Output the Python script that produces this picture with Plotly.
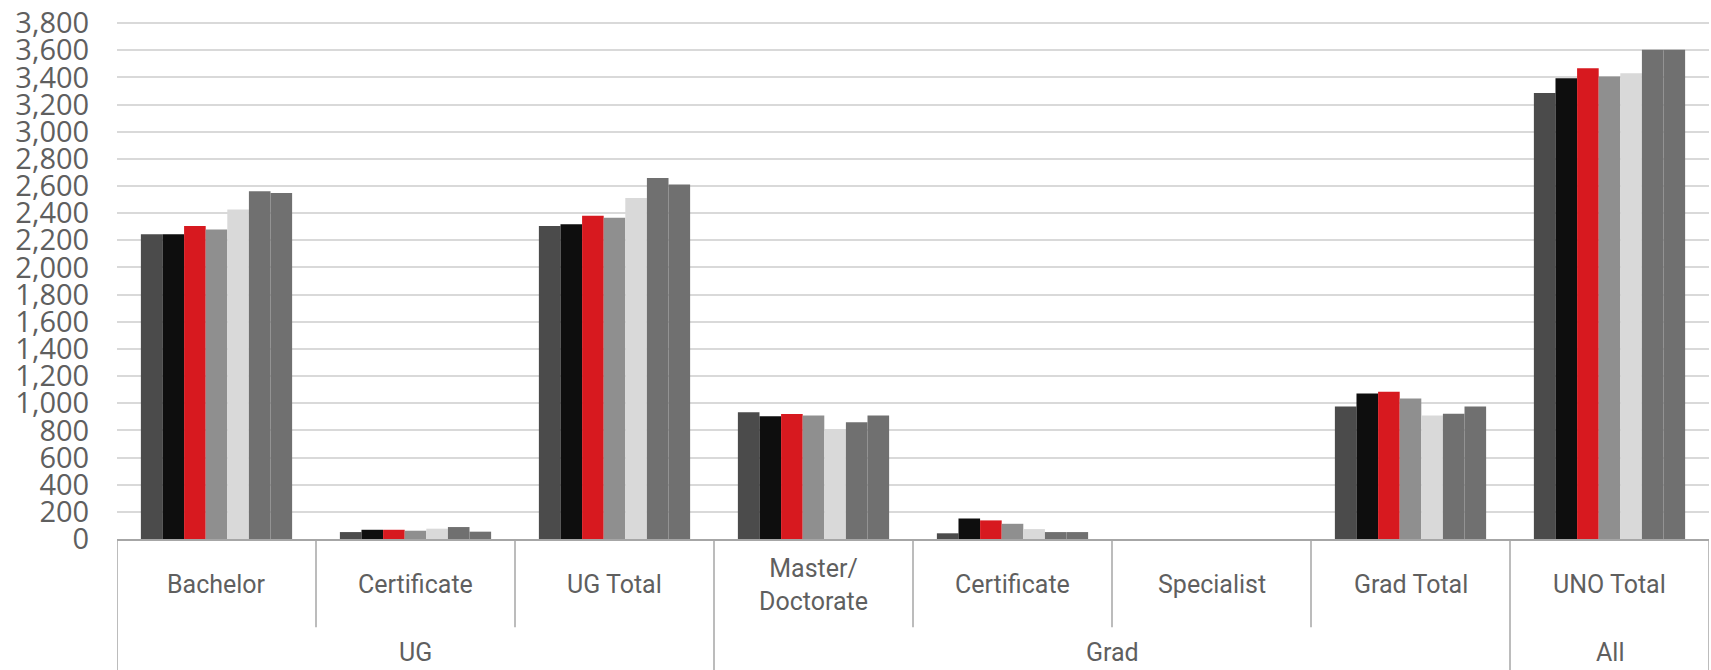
import plotly.graph_objects as go

# ---- data ----
categories = ["Bachelor", "Certificate", "UG Total", "Master/<br>Doctorate",
              "Certificate", "Specialist", "Grad Total", "UNO Total"]
groups = ["UG", "Grad", "All"]
group_sizes = [3, 4, 1]

series_names = ["Series 1", "Series 2", "Series 3", "Series 4", "Series 5", "Series 6", "Series 7"]
s1 = [2245, 51, 2305, 933, 42, 0, 975, 3284]
s2 = [2245, 68, 2319, 904, 151, 0, 1072, 3394]
s3 = [2305, 68, 2380, 921, 137, 0, 1085, 3467]
s4 = [2280, 61, 2366, 909, 112, 0, 1035, 3407]
s5 = [2427, 76, 2512, 811, 73, 0, 910, 3430]
s6 = [2561, 88, 2658, 860, 51, 0, 923, 3603]
s7 = [2549, 54, 2610, 909, 51, 0, 975, 3603]
series_values = [s1, s2, s3, s4, s5, s6, s7]
colors = ["#4b4b4b", "#0e0e0e", "#d7191f", "#8f8f8f", "#d9d9d9", "#707070", "#707070"]

y_max = 3800
y_step = 200
y_ticks = list(range(0, y_max + 1, y_step))

# ---- figure ----
W, H = 1711, 670
ml, mr, mt, mb = 117, 2, 17, 131
plot_h = H - mt - mb
y_top = 3815

x_idx = list(range(len(categories)))
fig = go.Figure()
for name, vals, col in zip(series_names, series_values, colors):
    fig.add_trace(go.Bar(x=x_idx, y=vals, name=name, marker=dict(color=col, line=dict(width=0))))

text_color = "#5f5f5f"
line_color = "#a6a6a6"
label_font = dict(family="Liberation Sans Narrow, Arial Narrow, Roboto, sans-serif", size=25, color=text_color)

def py(px_below):
    # convert pixels below the baseline to paper y
    return -px_below / plot_h

shapes = []
annotations = []
for i, c in enumerate(categories):
    annotations.append(dict(x=i, y=py(46), xref="x", yref="paper", text=c, showarrow=False,
                            font=label_font, xanchor="center", yanchor="middle"))
group_edges = [0]
for g in group_sizes:
    group_edges.append(group_edges[-1] + g)
for b in range(len(categories) + 1):
    long = b in group_edges
    shapes.append(dict(type="line", xref="x", yref="paper", x0=b - 0.5, x1=b - 0.5,
                       y0=0, y1=py(140 if long else 89), line=dict(color=line_color, width=1.5)))
for gi, g in enumerate(groups):
    center = (group_edges[gi] + group_edges[gi + 1] - 1) / 2
    annotations.append(dict(x=center, y=py(114), xref="x", yref="paper", text=g, showarrow=False,
                            font=label_font, xanchor="center", yanchor="middle"))

fig.update_layout(
    width=W, height=H,
    margin=dict(l=ml, r=mr, t=mt, b=mb, pad=0),
    paper_bgcolor="white", plot_bgcolor="white",
    barmode="group", bargap=0.24, bargroupgap=0,
    showlegend=False,
    shapes=shapes, annotations=annotations,
    xaxis=dict(range=[-0.5, len(categories) - 0.5], showticklabels=False, showgrid=False,
               zeroline=False, showline=True, linecolor=line_color, linewidth=1.5, ticks=""),
    yaxis=dict(range=[0, y_top], tickmode="array", tickvals=y_ticks,
               ticktext=[f"{v:,}" for v in y_ticks], ticklabeloverflow="allow",
               showgrid=True, gridcolor="#d9d9d9", gridwidth=2, zeroline=False, showline=False,
               ticks="outside", ticklen=21, tickcolor="rgba(0,0,0,0)",
               tickfont=dict(family="Open Sans, sans-serif", size=29, color=text_color)),
)

fig.write_html("out.html", config={"displayModeBar": False},
               post_script="document.body.style.margin='0';document.body.style.padding='0';")
